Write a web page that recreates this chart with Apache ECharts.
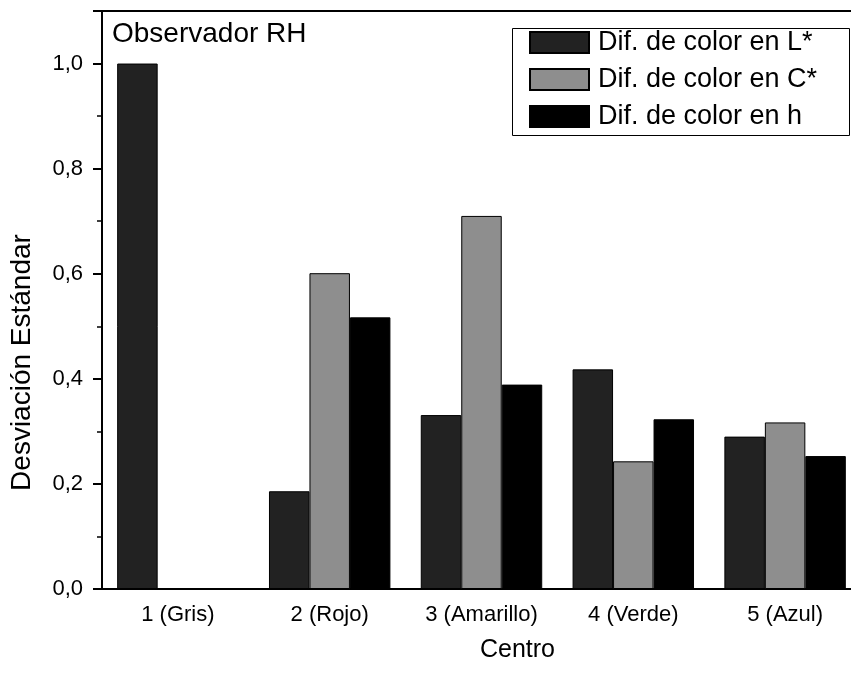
<!DOCTYPE html>
<html>
<head>
<meta charset="utf-8">
<script src="https://cdn.jsdelivr.net/npm/echarts@6/dist/echarts.min.js"></script>
<style>html,body{margin:0;padding:0;background:#fff;overflow:hidden}#c{width:880px;height:675px}</style>
</head>
<body>
<div id="c"></div>
<script>
var categories = ['1 (Gris)', '2 (Rojo)', '3 (Amarillo)', '4 (Verde)', '5 (Azul)'];
var seriesNames = ['Dif. de color en L*', 'Dif. de color en C*', 'Dif. de color en h'];
var difL = [1.0, 0.186, 0.331, 0.418, 0.290];
var difC = [0, 0.601, 0.710, 0.243, 0.317];
var difH = [0, 0.517, 0.389, 0.323, 0.253];
var colors = ['#222222', '#8e8e8e', '#000000'];

var FONT = 'Liberation Sans, Arial, sans-serif';
var chart = echarts.init(document.getElementById('c'), null, {renderer: 'canvas'});
function mk(name, data, color) {
  return {
    name: name, type: 'bar', data: data, xAxisIndex: 0,
    barGap: '0%', barCategoryGap: '20%',
    itemStyle: {color: color, borderColor: '#000', borderWidth: 1}
  };
}
chart.setOption({
  animation: false,
  backgroundColor: '#fff',
  title: {
    text: 'Observador RH', left: 112, top: 20, padding: 0,
    textStyle: {fontFamily: FONT, fontSize: 28, fontWeight: 'normal', color: '#000'}
  },
  legend: {
    left: 529, top: 29, padding: 0, orient: 'vertical', itemGap: 10,
    itemWidth: 59, itemHeight: 21, icon: 'rect',
    data: seriesNames,
    textStyle: {fontFamily: FONT, fontSize: 27, color: '#000', padding: [0, 0, 0, 4]}
  },
  graphic: [{
    type: 'rect', left: 510, top: 26, z: 100, silent: true,
    shape: {width: 337, height: 107},
    style: {fill: 'none', stroke: '#000', lineWidth: 1}
  }],
  grid: {
    left: 102, top: 11, width: 759, height: 578,
    show: true, borderColor: '#000', borderWidth: 2, backgroundColor: 'transparent'
  },
  xAxis: [{
    type: 'category', data: categories, boundaryGap: true,
    axisLine: {lineStyle: {color: '#000', width: 2}},
    axisTick: {alignWithLabel: true, length: 10, lineStyle: {color: '#000', width: 2}},
    axisLabel: {fontFamily: FONT, fontSize: 22, color: '#000', margin: 15},
    name: 'Centro', nameLocation: 'middle', nameGap: 49,
    nameTextStyle: {fontFamily: FONT, fontSize: 25, color: '#000', padding: [0, 0, 0, 72]}
  }, {
    type: 'category', data: categories, boundaryGap: true, position: 'bottom',
    axisLine: {show: false},
    axisTick: {inside: true, length: 6, lineStyle: {color: '#000', width: 2}},
    axisLabel: {show: false}
  }],
  yAxis: {
    type: 'value', min: 0, max: 1.1, interval: 0.2,
    axisLine: {show: true, lineStyle: {color: '#000', width: 2}},
    axisTick: {show: true, length: 9, lineStyle: {color: '#000', width: 2}},
    minorTick: {show: true, splitNumber: 2, length: 5, lineStyle: {color: '#000', width: 1.5}},
    splitLine: {show: false},
    axisLabel: {
      fontFamily: FONT, fontSize: 22, color: '#000', margin: 19,
      formatter: function (v) {
        var r = Math.round(v * 10);
        if (r % 2 !== 0) return '';
        return (r / 10).toFixed(1).replace('.', ',');
      }
    },
    name: 'Desviación Estándar', nameLocation: 'middle', nameGap: 66, nameRotate: 90,
    nameTextStyle: {fontFamily: FONT, fontSize: 28, color: '#000', padding: [0, 125, 0, 0]}
  },
  series: [
    mk(seriesNames[0], difL, colors[0]),
    mk(seriesNames[1], difC, colors[1]),
    mk(seriesNames[2], difH, colors[2])
  ]
});
</script>
</body>
</html>
